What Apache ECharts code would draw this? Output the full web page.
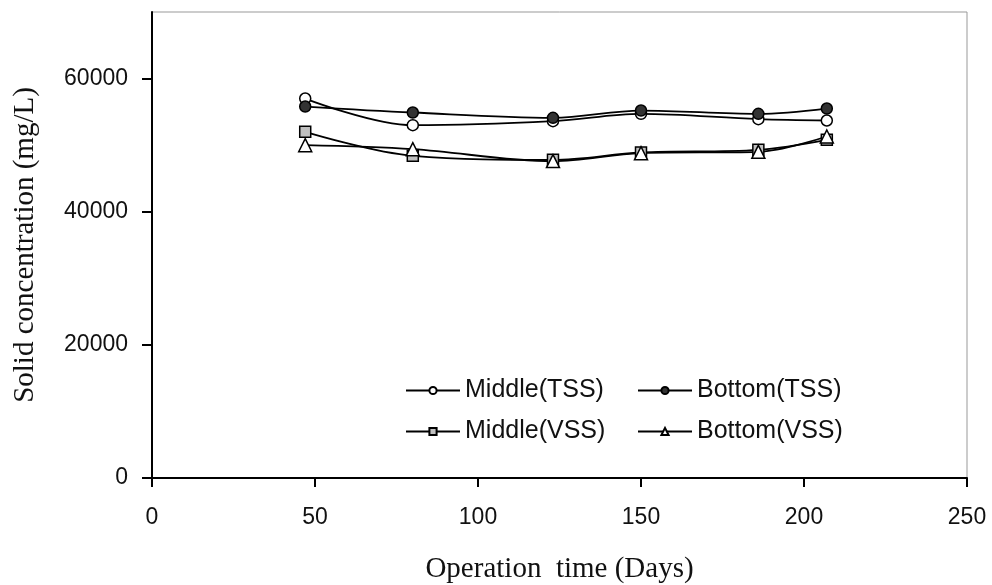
<!DOCTYPE html>
<html>
<head>
<meta charset="utf-8">
<script src="https://cdn.jsdelivr.net/npm/echarts@6/dist/echarts.min.js"></script>
<style>html,body{margin:0;padding:0;background:#fff;}#c{width:992px;height:585px;}</style>
</head>
<body>
<div id="c"></div>
<script>
var days = [47, 80, 123, 150, 186, 207];
var middleTSS = [57000, 53000, 53600, 54700, 53900, 53700];
var bottomTSS = [55800, 54900, 54100, 55200, 54700, 55500];
var middleVSS = [52000, 48400, 47800, 48900, 49300, 50800];
var bottomVSS = [50000, 49400, 47600, 48800, 49000, 51300];
var xTicks = [0, 50, 100, 150, 200, 250];
var yTicks = [0, 20000, 40000, 60000];
var seriesNames = ['Middle(TSS)', 'Bottom(TSS)', 'Middle(VSS)', 'Bottom(VSS)'];

function pts(ys){ return days.map(function(d,i){ return [d, ys[i]]; }); }

function mk(name, ys, symbol, fill, size){
  return {
    type: 'line', smooth: 0.35, z: 3,
    name: name, data: pts(ys), symbol: symbol, symbolSize: size,
    itemStyle: {color: fill, borderColor: '#000', borderWidth: 1.5},
    lineStyle: {color: '#000', width: 1.8}
  };
}
var chart = echarts.init(document.getElementById('c'));
var legendText = {fontFamily: 'Liberation Sans', fontSize: 25, color: '#111'};
chart.setOption({
  animation: false,
  grid: {left: 152, right: 25, top: 12, bottom: 107, show: true, borderColor: '#999', borderWidth: 1,
    containLabel: false, outerBoundsMode: 'none'},
  xAxis: {
    type: 'value', min: 0, max: 250, interval: 50,
    axisLine: {lineStyle: {color: '#000', width: 2}},
    axisTick: {inside: false, length: 9, lineStyle: {color: '#000', width: 2}, customValues: xTicks},
    axisLabel: {margin: 28, fontFamily: 'Liberation Sans', fontSize: 23, color: '#111', customValues: xTicks},
    splitLine: {show: false},
    name: 'Operation  time (Days)', nameLocation: 'middle', nameGap: 77,
    nameTextStyle: {fontFamily: 'Liberation Serif', fontSize: 29, color: '#111'}
  },
  yAxis: {
    type: 'value', min: 0, max: 70000, interval: 20000,
    axisLine: {show: true, lineStyle: {color: '#000', width: 2}},
    axisTick: {show: true, length: 10, lineStyle: {color: '#000', width: 2}, customValues: yTicks},
    axisLabel: {margin: 24, fontFamily: 'Liberation Sans', fontSize: 23, color: '#111', customValues: yTicks,
      formatter: function(v){ return String(v); }},
    splitLine: {show: false},
    name: 'Solid concentration (mg/L)', nameLocation: 'middle', nameGap: 112,
    nameTextStyle: {fontFamily: 'Liberation Serif', fontSize: 29, color: '#111'}
  },
  legend: [
    {data: [seriesNames[0], seriesNames[2]], orient: 'vertical', left: 400, top: 373, itemWidth: 54, itemHeight: 9, itemGap: 16, textStyle: legendText},
    {data: [seriesNames[1], seriesNames[3]], orient: 'vertical', left: 632, top: 373, itemWidth: 54, itemHeight: 9, itemGap: 16, textStyle: legendText}
  ],
  series: [
    mk(seriesNames[0], middleTSS, 'circle', '#fff', 11),
    mk(seriesNames[1], bottomTSS, 'circle', '#333', 11),
    mk(seriesNames[2], middleVSS, 'rect', '#c0c0c0', 11),
    mk(seriesNames[3], bottomVSS, 'triangle', '#fff', 13)
  ]
});
</script>
</body>
</html>
